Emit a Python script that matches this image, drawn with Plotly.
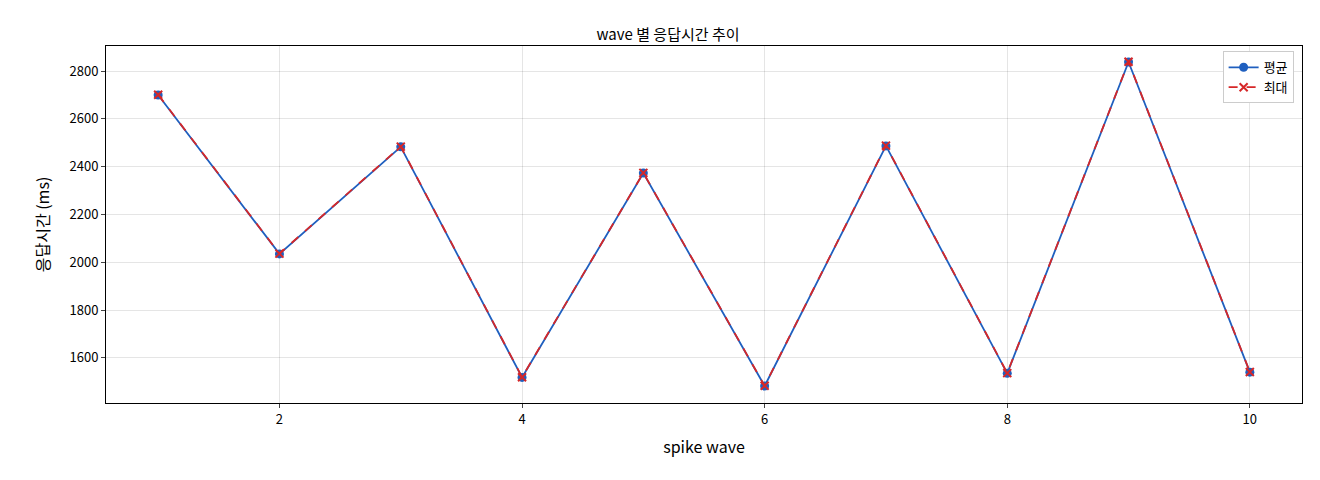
import plotly.graph_objects as go

waves = [1, 2, 3, 4, 5, 6, 7, 8, 9, 10]
avg_ms = [2700, 2035, 2483, 1518, 2373, 1482, 2487, 1535, 2838, 1540]
max_ms = [2701, 2036, 2484, 1519, 2374, 1483, 2488, 1536, 2839, 1541]

fig = go.Figure()
fig.add_trace(go.Scatter(x=waves, y=avg_ms, name="평균", mode="lines+markers",
                         line=dict(color="#1f5fbf", width=1.8),
                         marker=dict(symbol="circle", size=9, color="#1f5fbf")))
fig.add_trace(go.Scatter(x=waves, y=max_ms, name="최대", mode="lines+markers",
                         line=dict(color="#d62728", width=1.8, dash="dash"),
                         marker=dict(symbol="x-thin", size=8, line=dict(width=2, color="#d62728"),
                                     color="#d62728")))

axis = dict(showline=True, linecolor="black", mirror=True, ticks="outside", ticklen=4,
            gridcolor="rgba(0,0,0,0.1)", zeroline=False, tickfont=dict(size=13),
            title_font=dict(size=13))
fig.update_layout(
    width=1320, height=480, plot_bgcolor="white", paper_bgcolor="white",
    font=dict(family="Noto Sans CJK KR", size=13, color="black"),
    title=dict(text="wave 별 응답시간 추이", x=0.5, y=0.955, xanchor="center", font=dict(size=15)),
    margin=dict(l=98, r=26, t=38, b=85),
    xaxis=dict(axis, range=[0.57, 10.43], tickvals=[2, 4, 6, 8, 10], title="spike wave"),
    yaxis=dict(axis, range=[1411, 2905], tickvals=[1600, 1800, 2000, 2200, 2400, 2600, 2800], title="응답시간 (ms)"),
    legend=dict(x=0.993, y=0.985, xanchor="right", yanchor="top", bordercolor="#ccc", borderwidth=1,
                bgcolor="white"),
)
fig.write_html("out.html")
